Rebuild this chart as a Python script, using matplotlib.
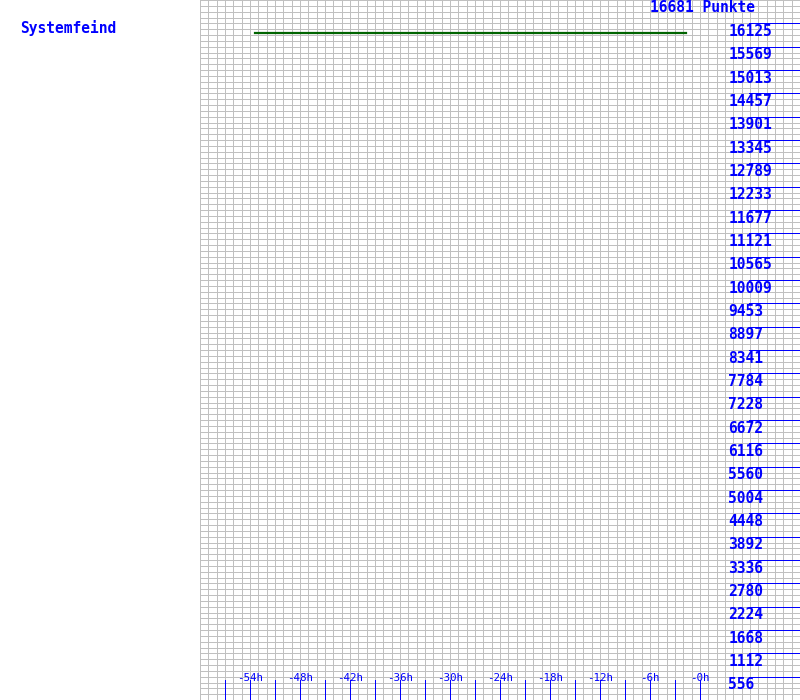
import matplotlib
matplotlib.use('Agg')
import matplotlib.pyplot as plt
import numpy as np

# Daten
name = "Systemfeind"
punkte = 16681
stunden = [-53.4, -1.7]
werte = [15895, 15895]
y_ticks = [556, 1112, 1668, 2224, 2780, 3336, 3892, 4448, 5004, 5560,
           6116, 6672, 7228, 7784, 8341, 8897, 9453, 10009, 10565, 11121,
           11677, 12233, 12789, 13345, 13901, 14457, 15013, 15569, 16125]
x_ticks = [-57, -54, -51, -48, -45, -42, -39, -36, -33, -30, -27, -24,
           -21, -18, -15, -12, -9, -6, -3, 0]
x_labels = {-54: '-54h', -48: '-48h', -42: '-42h', -36: '-36h', -30: '-30h',
            -24: '-24h', -18: '-18h', -12: '-12h', -6: '-6h', 0: '-0h'}

blau = '#0000ff'
grau = '#c0c0c0'
mono = ['DejaVu Sans Mono']

fig = plt.figure(figsize=(8, 7), dpi=100)
ax = fig.add_axes([0.25, 0, 0.75, 1])
ax.set_xlim(-60, 12)
ax.set_ylim(0, punkte)
ax.axis('off')

# Raster: 1 Stunde breit, 120 Zeilen hoch
ax.vlines(np.arange(-60, 13), 0, punkte, color=grau, lw=0.5,
          antialiased=False, zorder=1)
ax.hlines(np.arange(121) * punkte / 120, -60, 12, color=grau, lw=0.5,
          antialiased=False, zorder=1)

# Verlauf
ax.plot(stunden, werte, color='#006400', lw=1.6, zorder=3)

# rechte Skala
ax.hlines(y_ticks, 5.88, 12, color=blau, lw=0.7, antialiased=False, zorder=2)
for v in y_ticks:
    ax.annotate(str(v), (3.4, v), xytext=(0, -5.8), textcoords='offset points',
                ha='left', va='center', color=blau, fontsize=10.5,
                family=mono, fontweight='bold', zorder=4)

# untere Skala
ax.vlines(x_ticks, 0, 20 / 700, transform=ax.get_xaxis_transform(),
          color=blau, lw=0.7, antialiased=False, zorder=2)
for h, lab in x_labels.items():
    ax.text(h, 22 / 700, lab, transform=ax.get_xaxis_transform(),
            ha='center', va='center', color=blau, fontsize=7.8, family=mono,
            zorder=4)

fig.text(703 / 800, 1 - 7 / 700, f"{punkte} Punkte", ha='center', va='center',
         color=blau, fontsize=10.5, family=mono, fontweight='bold')
fig.text(20 / 800, 1 - 28 / 700, name, ha='left', va='center',
         color=blau, fontsize=10.5, family=mono, fontweight='bold')

fig.savefig('out.png', dpi=100)
